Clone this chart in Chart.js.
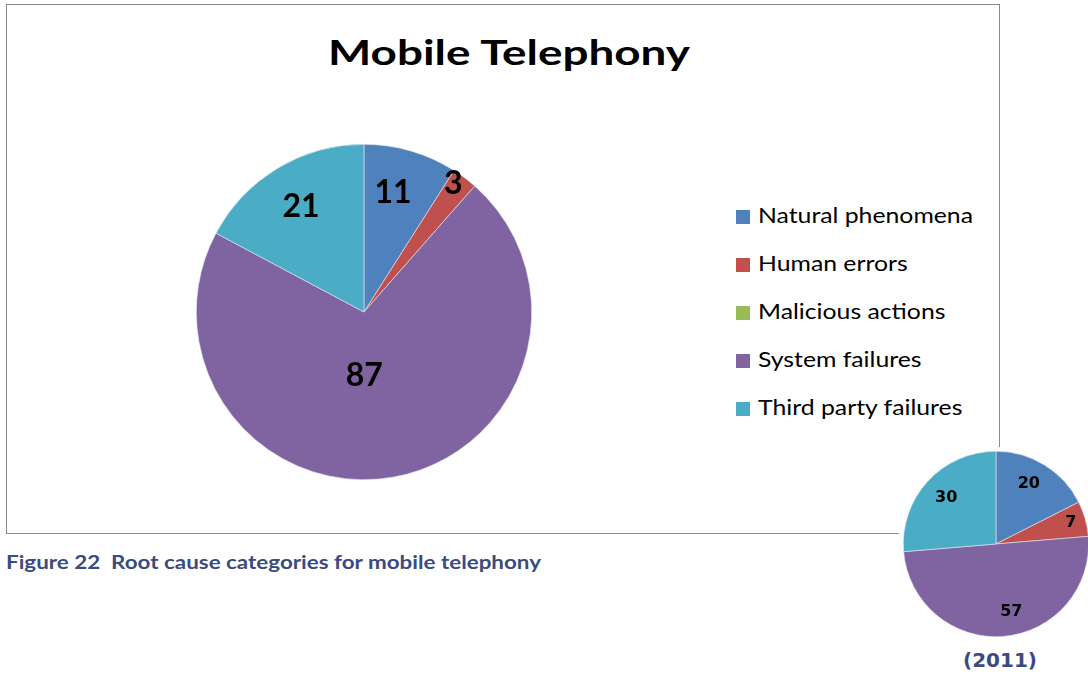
<!DOCTYPE html>
<html>
<head>
<meta charset="utf-8">
<script src="https://cdn.jsdelivr.net/npm/chart.js@4.4.1/dist/chart.umd.min.js"></script>
<style>
    html, body { margin: 0; padding: 0; background: #fff; }
    body { width: 1088px; height: 675px; position: relative; overflow: hidden; font-family: Lato, "Open Sans", sans-serif; }
    .frame { position: absolute; left: 6px; top: 4px; width: 994px; height: 530px; border: 1px solid #8c8c8c; box-sizing: border-box; }
    .title { position: absolute; left: 328px; top: 30px; font-weight: 700; font-size: 35px; color: #000; white-space: nowrap; transform-origin: 0 0; }
    #mainPie { position: absolute; left: 196px; top: 144px; }
    .legend { position: absolute; left: 736px; top: 200px; }
    .legend div { height: 48px; line-height: 30px; font-size: 22px; color: #000; white-space: nowrap; }
    .legend span { display: inline-block; width: 14px; height: 14px; margin-right: 8px; vertical-align: -1px; }
    .legend .name { display: inline-block; transform-origin: 0 50%; }
    .caption { position: absolute; left: 6px; top: 551px; font-weight: 700; font-size: 18px; color: #3b4b7f; white-space: pre; transform-origin: 0 0; }
    #smallPie { position: absolute; left: 899px; top: 447px; background: #fff; }
    .year { position: absolute; left: 950px; width: 100px; top: 648px; text-align: center; font-family: "DejaVu Sans", Verdana, sans-serif; font-weight: 700; font-size: 20px; color: #3b4b7f; }
</style>
</head>
<body>
<div class="frame"></div>
<div class="title" id="title">Mobile Telephony</div>
<canvas id="mainPie" width="336" height="336"></canvas>
<div class="legend" id="legend"></div>
<div class="caption" id="caption">Figure 22  Root cause categories for mobile telephony</div>
<canvas id="smallPie" width="194" height="194"></canvas>
<div class="year">(2011)</div>

<script>
const categories = ['Natural phenomena', 'Human errors', 'Malicious actions', 'System failures', 'Third party failures'];
const colors = ['#4F81BD', '#C0504D', '#9BBB59', '#8064A2', '#4BACC6'];
const incidents = [11, 3, 0, 87, 21];
const incidents2011 = [20, 7, 0, 57, 30];

// how far out along each slice the value sits (fraction of radius), plus a small turn in degrees
const mainLabelRadius = [0.73, 0.93, 0.7, 0.38, 0.73];
const mainLabelTurn = [-2.5, -2, 0, 10, 0];
const smallLabelRadius = [0.74, 0.84, 0.7, 0.75, 0.73];
const smallLabelTurn = [-3, 0, 0, -8, 0];

// values printed inside the slices
const sliceLabels = {
    id: 'sliceLabels',
    afterDatasetsDraw(chart, args, opts) {
        const ctx = chart.ctx;
        const meta = chart.getDatasetMeta(0);
        const values = chart.data.datasets[0].data;
        ctx.save();
        ctx.font = opts.font;
        ctx.fillStyle = '#000';
        ctx.textAlign = 'center';
        ctx.textBaseline = 'middle';
        meta.data.forEach((arc, i) => {
            if (!values[i]) return;
            const mid = (arc.startAngle + arc.endAngle) / 2 + opts.turn[i] * Math.PI / 180;
            const r = arc.outerRadius * opts.radius[i];
            ctx.fillText(String(values[i]), arc.x + Math.cos(mid) * r, arc.y + Math.sin(mid) * r);
        });
        ctx.restore();
    }
};

const pieOptions = (font, radius, turn, pad) => ({
    responsive: false,
    animation: false,
    layout: { padding: pad },
    plugins: {
        legend: { display: false },
        tooltip: { enabled: false },
        sliceLabels: { font, radius, turn }
    }
});

new Chart(document.getElementById('mainPie'), {
    type: 'pie',
    data: {
        labels: categories,
        datasets: [{ data: incidents, backgroundColor: colors, borderColor: '#e8e8f0', borderWidth: 0.6 }]
    },
    options: pieOptions('700 32px Lato', mainLabelRadius, mainLabelTurn, 0),
    plugins: [sliceLabels]
});

new Chart(document.getElementById('smallPie'), {
    type: 'pie',
    data: {
        labels: categories,
        datasets: [{ data: incidents2011, backgroundColor: colors, borderColor: '#e8e8f0', borderWidth: 0.6 }]
    },
    options: pieOptions('700 16px "DejaVu Sans"', smallLabelRadius, smallLabelTurn, 4),
    plugins: [sliceLabels]
});

// legend on the right of the main pie
const legend = document.getElementById('legend');
const names = categories.map((name, i) => {
    const row = document.createElement('div');
    const box = document.createElement('span');
    box.style.background = colors[i];
    const label = document.createElement('span');
    label.className = 'name';
    label.style.cssText = 'width:auto;height:auto;margin:0;vertical-align:baseline';
    label.textContent = name;
    row.appendChild(box);
    row.appendChild(label);
    legend.appendChild(row);
    return label;
});

// the text is set wide, so stretch each block to its width
function stretchTo(el, width) {
    el.style.transform = 'scaleX(' + (width / el.getBoundingClientRect().width) + ')';
}
stretchTo(document.getElementById('title'), 362);
stretchTo(document.getElementById('caption'), 535);
const legendScale = 215 / names[0].getBoundingClientRect().width;
names.forEach(n => { n.style.transform = 'scaleX(' + legendScale + ')'; });
</script>
</body>
</html>
